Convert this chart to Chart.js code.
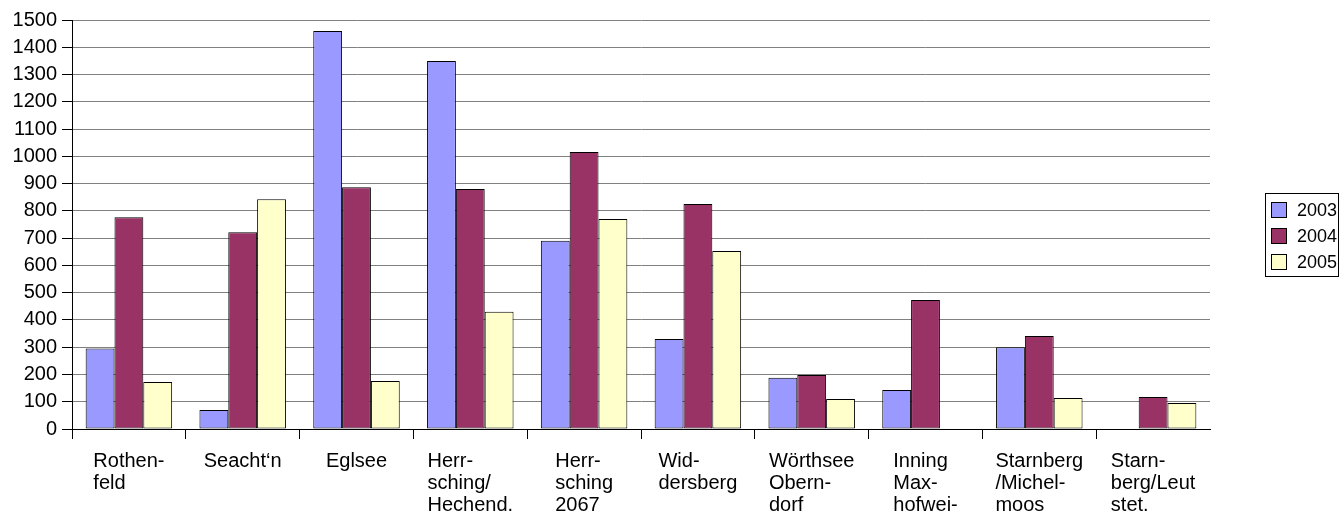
<!DOCTYPE html>
<html>
<head>
<meta charset="utf-8">
<script src="https://cdn.jsdelivr.net/npm/chart.js@4.4.0/dist/chart.umd.min.js"></script>
<style>
  html, body { margin: 0; padding: 0; background: #fff; }
  #wrap { width: 1340px; height: 513px; position: relative; }
</style>
</head>
<body>
<div id="wrap"><canvas id="chart"></canvas></div>
<script>
// categories (multi-line, as wrapped in the original)
const categories = [
  ["Rothen-", "feld"],
  ["Seacht\u2018n"],
  ["Eglsee"],
  ["Herr-", "sching/", "Hechend."],
  ["Herr-", "sching", "2067"],
  ["Wid-", "dersberg"],
  ["Wörthsee", "Obern-", "dorf"],
  ["Inning", "Max-", "hofwei-"],
  ["Starnberg", "/Michel-", "moos"],
  ["Starn-", "berg/Leut", "stet."]
];
const years = ["2003", "2004", "2005"];
const values2003 = [295, 70, 1460, 1350, 690, 330, 188, 143, 300, 0];
const values2004 = [777, 722, 887, 880, 1016, 825, 198, 473, 341, 117];
const values2005 = [172, 843, 176, 430, 770, 653, 110, 0, 114, 95];
const yMin = 0, yMax = 1500, yStep = 100;

const colors = ["#9999ff", "#993366", "#ffffcc"];
const FONT = '"Liberation Sans", Arial, sans-serif';

// x labels: left-aligned lines, block centred under each category
const xLabels = {
  id: "xLabels",
  afterDraw(chart) {
    const ctx = chart.ctx;
    const xs = chart.scales.x;
    ctx.save();
    ctx.font = "20px " + FONT;
    ctx.fillStyle = "#000";
    ctx.textAlign = "left";
    ctx.textBaseline = "alphabetic";
    chart.data.labels.forEach((lines, i) => {
      const cx = xs.getPixelForValue(i);
      const w = Math.max(...lines.map(l => ctx.measureText(l).width));
      lines.forEach((l, j) => ctx.fillText(l, cx - w / 2, xs.top + 38 + j * 22));
    });
    ctx.restore();
  }
};

// boxed legend at the right, as in the original
const boxLegend = {
  id: "boxLegend",
  afterDraw(chart) {
    const ctx = chart.ctx;
    ctx.save();
    ctx.strokeStyle = "#000";
    ctx.lineWidth = 1;
    ctx.strokeRect(1265.5, 193.5, 73, 83);
    ctx.font = "18px " + FONT;
    ctx.textBaseline = "middle";
    ctx.textAlign = "left";
    chart.data.datasets.forEach((ds, i) => {
      const y = 202 + i * 26;
      ctx.fillStyle = ds.backgroundColor;
      ctx.fillRect(1271, y, 16, 16);
      ctx.strokeRect(1271.5, y + 0.5, 15, 15);
      ctx.fillStyle = "#000";
      ctx.fillText(ds.label, 1297, y + 9);
    });
    ctx.restore();
  }
};

new Chart(document.getElementById("chart"), {
  type: "bar",
  data: {
    labels: categories,
    datasets: [values2003, values2004, values2005].map((v, i) => ({
      label: years[i],
      data: v,
      backgroundColor: colors[i],
      borderColor: "#000",
      borderWidth: 1,
      borderSkipped: false,
      categoryPercentage: 0.76,
      barPercentage: 1.0
    }))
  },
  options: {
    responsive: true,
    maintainAspectRatio: false,
    animation: false,
    layout: { padding: { top: 20, right: 130, left: 0, bottom: 0 } },
    plugins: {
      legend: { display: false },
      tooltip: { enabled: false }
    },
    scales: {
      x: {
        grid: {
          drawOnChartArea: false,
          offset: true,
          tickLength: 10,
          // no tick mark at the far right end
          tickColor: c => (c.tick ? "#000" : "rgba(0,0,0,0)"),
          tickWidth: c => (c.tick ? 1 : 0)
        },
        border: { color: "#000", width: 1 },
        ticks: { display: false },
        afterFit: s => { s.height = 84; }
      },
      y: {
        min: yMin,
        max: yMax,
        ticks: {
          stepSize: yStep,
          color: "#000",
          padding: 5,
          font: { family: FONT, size: 20 },
          callback: v => String(v)
        },
        grid: {
          color: c => (c.tick && c.tick.value === 0 ? "#000" : "#808080"),
          tickColor: "#000",
          tickLength: 10
        },
        border: { color: "#000", width: 1 },
        afterFit: s => { s.width = 72; }
      }
    }
  },
  plugins: [xLabels, boxLegend]
});
</script>
</body>
</html>
